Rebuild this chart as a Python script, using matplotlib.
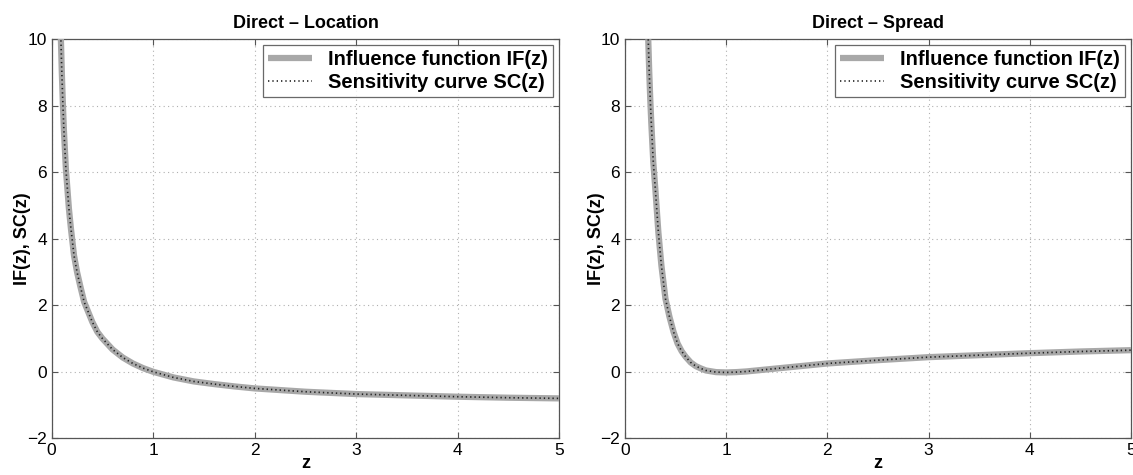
import matplotlib
matplotlib.use("Agg")
import matplotlib.pyplot as plt

plt.rcParams['font.family'] = ['Liberation Sans', 'DejaVu Sans']

# Direct - Location
z_loc = [0.09, 0.10, 0.11, 0.12, 0.13, 0.14, 0.15, 0.17, 0.19, 0.22, 0.25, 0.28,
         0.32, 0.36, 0.40, 0.45, 0.50, 0.60, 0.70, 0.80, 0.90, 1.00, 1.20, 1.40,
         1.60, 1.80, 2.00, 2.50, 3.00, 3.50, 4.00, 4.50, 5.00]
if_loc = [10.1, 9.0, 8.1, 7.3, 6.7, 6.1, 5.7, 4.9, 4.3, 3.5, 3.0, 2.6,
          2.1, 1.8, 1.5, 1.2, 1.0, 0.67, 0.43, 0.25, 0.11, 0.0, -0.17, -0.29,
          -0.37, -0.44, -0.50, -0.60, -0.67, -0.71, -0.75, -0.78, -0.80]
sc_loc = if_loc

# Direct - Spread
z_spr = [0.23, 0.24, 0.25, 0.26, 0.28, 0.30, 0.33, 0.36, 0.40, 0.44, 0.48, 0.52,
         0.56, 0.60, 0.65, 0.70, 0.75, 0.80, 0.90, 1.00, 1.10, 1.20, 1.40, 1.60,
         1.80, 2.00, 2.50, 3.00, 3.50, 4.00, 4.50, 5.00]
if_spr = [10.0, 9.0, 8.2, 7.5, 6.3, 5.5, 4.2, 3.2, 2.2, 1.65, 1.2, 0.85,
          0.62, 0.45, 0.28, 0.17, 0.10, 0.04, -0.01, -0.02, -0.01, 0.01, 0.07, 0.13,
          0.19, 0.25, 0.35, 0.44, 0.50, 0.56, 0.61, 0.65]
sc_spr = if_spr

titles = ["Direct \u2013 Location", "Direct \u2013 Spread"]
xticks = [0, 1, 2, 3, 4, 5]
yticks = [-2, 0, 2, 4, 6, 8, 10]
ytick_labels = ["\u22122", "0", "2", "4", "6", "8", "10"]
legend_labels = ["Influence function IF(z)", "Sensitivity curve SC(z)"]

fig = plt.figure(figsize=(11.33, 4.75), dpi=100)
ax1 = fig.add_axes([0.0456, 0.0773, 0.4481, 0.84])
ax2 = fig.add_axes([0.5516, 0.0773, 0.4466, 0.84])

for ax, zz, ifv, scv, title in [(ax1, z_loc, if_loc, sc_loc, titles[0]),
                                 (ax2, z_spr, if_spr, sc_spr, titles[1])]:
    ax.plot(zz, ifv, color='#a8a8a8', lw=4.5, solid_capstyle='butt',
            label=legend_labels[0], zorder=3)
    ax.plot(zz, scv, color='#222222', lw=1.2, ls=(0, (0.8, 1.8)),
            label=legend_labels[1], zorder=4)
    ax.set_xlim(0, 5)
    ax.set_ylim(-2, 10)
    ax.set_xticks(xticks)
    ax.set_yticks(yticks)
    ax.set_yticklabels(ytick_labels)
    ax.grid(True, ls=(0, (1, 3)), color='#b0b0b0', lw=0.8)
    ax.tick_params(direction='in', top=True, right=True, labelsize=12.5,
                   length=4, color='#555555')
    for s in ax.spines.values():
        s.set_color('#555555')
        s.set_linewidth(0.9)
    ax.set_title(title, fontsize=13, fontweight='bold', pad=8)
    ax.set_xlabel('z', fontsize=13, fontweight='bold', labelpad=-2)
    ax.set_ylabel('IF(z), SC(z)', fontsize=13, fontweight='bold', labelpad=-3)
    leg = ax.legend(loc='upper right', frameon=True, fancybox=False,
                    edgecolor='#444444', borderpad=0.25, labelspacing=0.2,
                    handlelength=2.2, handletextpad=0.8, borderaxespad=0.3,
                    prop={'weight': 'bold', 'size': 14.5})
    leg.get_frame().set_linewidth(0.9)

fig.savefig('out.png', dpi=100)
